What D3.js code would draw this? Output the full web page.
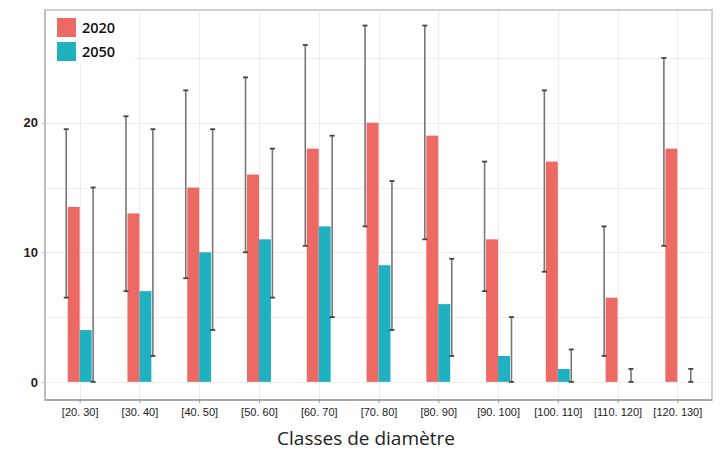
<!DOCTYPE html>
<html>
<head>
<meta charset="utf-8">
<script src="https://cdn.jsdelivr.net/npm/d3@7"></script>
<style>
  html, body { margin: 0; padding: 0; background: #fff; }
  svg { display: block; font-family: "Open Sans", "DejaVu Sans", sans-serif; }
</style>
</head>
<body>
<svg id="chart" width="725" height="450"></svg>
<script>
// Diameter classes and the two scenarios (mean with lower / upper bounds)
const categories = ["[20. 30]", "[30. 40]", "[40. 50]", "[50. 60]", "[60. 70]", "[70. 80]",
                    "[80. 90]", "[90. 100]", "[100. 110]", "[110. 120]", "[120. 130]"];
const seriesNames = ["2020", "2050"];
const mean2020  = [13.5, 13, 15, 16, 18, 20, 19, 11, 17, 6.5, 18];
const lower2020 = [6.5, 7, 8, 10, 10.5, 12, 11, 7, 8.5, 2, 10.5];
const upper2020 = [19.5, 20.5, 22.5, 23.5, 26, 27.5, 27.5, 17, 22.5, 12, 25];
const mean2050  = [4, 7, 10, 11, 12, 9, 6, 2, 1, 0, 0];
const lower2050 = [0, 2, 4, 6.5, 5, 4, 2, 0, 0, 0, 0];
const upper2050 = [15, 19.5, 19.5, 18, 19, 15.5, 9.5, 5, 2.5, 1, 1];
const yTicks = [0, 10, 20];
const gridValues = [0, 5, 10, 15, 20, 25];
const colors = ["#EC6A63", "#1FB1BF"];

const rows = categories.map((c, i) => ({
  cat: c,
  vals: [
    { s: 0, mean: mean2020[i], lo: lower2020[i], hi: upper2020[i] },
    { s: 1, mean: mean2050[i], lo: lower2050[i], hi: upper2050[i] }
  ]
}));

const svg = d3.select("#chart");
const panel = { left: 45, right: 712, top: 10, bottom: 400 };

const x = d3.scalePoint().domain(categories)
  .range([panel.left, panel.right]).padding(0.58);
const step = x.step();
const barW = step * 0.2;
const errOff = step * 0.225;

const y = d3.scaleLinear().domain([-1.4, 28.7]).range([panel.bottom, panel.top]);

// panel background
svg.append("rect")
  .attr("x", panel.left).attr("y", panel.top)
  .attr("width", panel.right - panel.left).attr("height", panel.bottom - panel.top)
  .attr("fill", "#fff");

// grid
const grid = svg.append("g").attr("stroke", "#ededed").attr("stroke-width", 1);
grid.selectAll("line.h").data(gridValues).join("line")
  .attr("class", "h")
  .attr("x1", panel.left).attr("x2", panel.right)
  .attr("y1", d => Math.round(y(d)) + 0.5).attr("y2", d => Math.round(y(d)) + 0.5);
grid.selectAll("line.v").data(categories).join("line")
  .attr("class", "v")
  .attr("x1", d => Math.round(x(d)) + 0.5).attr("x2", d => Math.round(x(d)) + 0.5)
  .attr("y1", panel.top).attr("y2", panel.bottom);

// bars
const groups = svg.append("g").selectAll("g").data(rows).join("g")
  .attr("transform", d => `translate(${x(d.cat)},0)`);

groups.selectAll("rect").data(d => d.vals).join("rect")
  .attr("x", d => d.s === 0 ? -barW : 0)
  .attr("width", barW)
  .attr("y", d => y(d.mean))
  .attr("height", d => y(0) - y(d.mean))
  .attr("fill", d => colors[d.s]);

// error bars
const capW = 2.5;
const eb = groups.selectAll("g.err").data(d => d.vals).join("g")
  .attr("class", "err")
  .attr("transform", d => `translate(${d.s === 0 ? -errOff : errOff},0)`);
eb.append("line")
  .attr("x1", 0).attr("x2", 0)
  .attr("y1", d => y(d.hi)).attr("y2", d => y(d.lo))
  .attr("stroke-width", 1.6).attr("stroke", "#777");
eb.append("line")
  .attr("x1", -capW).attr("x2", capW)
  .attr("y1", d => y(d.hi)).attr("y2", d => y(d.hi))
  .attr("stroke-width", 1.8).attr("stroke", "#444");
eb.append("line")
  .attr("x1", -capW).attr("x2", capW)
  .attr("y1", d => y(d.lo)).attr("y2", d => y(d.lo))
  .attr("stroke-width", 1.8).attr("stroke", "#444");

// panel border
svg.append("rect")
  .attr("x", panel.left).attr("y", panel.top)
  .attr("width", panel.right - panel.left).attr("height", panel.bottom - panel.top)
  .attr("fill", "none").attr("stroke", "#cfcfcf").attr("stroke-width", 2);
svg.append("line")
  .attr("x1", panel.left).attr("x2", panel.right)
  .attr("y1", panel.bottom).attr("y2", panel.bottom)
  .attr("stroke", "#a8a8a8").attr("stroke-width", 2);
svg.append("line")
  .attr("x1", panel.left).attr("x2", panel.left)
  .attr("y1", panel.top).attr("y2", panel.bottom)
  .attr("stroke", "#bdbdbd").attr("stroke-width", 2);

// y axis
const yAxis = svg.append("g")
  .attr("transform", `translate(${panel.left},0)`)
  .call(d3.axisLeft(y).tickValues(yTicks).tickSize(3).tickPadding(4).tickFormat(d3.format("d")));
yAxis.select(".domain").remove();
yAxis.selectAll(".tick line").attr("stroke", "#bbb");
yAxis.selectAll("text").attr("font-size", 13).attr("font-weight", 600).attr("fill", "#222");

// x axis
const xAxis = svg.append("g")
  .attr("transform", `translate(0,${panel.bottom})`)
  .call(d3.axisBottom(x).tickSize(3).tickPadding(5));
xAxis.select(".domain").remove();
xAxis.selectAll(".tick line").attr("stroke", "#999");
xAxis.selectAll("text").attr("font-size", 11).attr("fill", "#222");

// axis title
svg.append("text")
  .attr("x", 366).attr("y", 445)
  .attr("text-anchor", "middle")
  .attr("font-size", 19).attr("fill", "#222")
  .text("Classes de diamètre");

// legend
const legend = svg.append("g");
legend.append("rect")
  .attr("x", panel.left + 1).attr("y", panel.top + 1)
  .attr("width", 88).attr("height", 53).attr("fill", "#fff");
const li = legend.selectAll("g.item").data(seriesNames).join("g")
  .attr("class", "item")
  .attr("transform", (d, i) => `translate(57,${18 + i * 24})`);
li.append("rect").attr("width", 19).attr("height", 19).attr("fill", (d, i) => colors[i]);
li.append("text")
  .attr("x", 25).attr("y", 15)
  .attr("font-size", 14.5).attr("font-weight", 600).attr("fill", "#111")
  .text(d => d);
</script>
</body>
</html>
